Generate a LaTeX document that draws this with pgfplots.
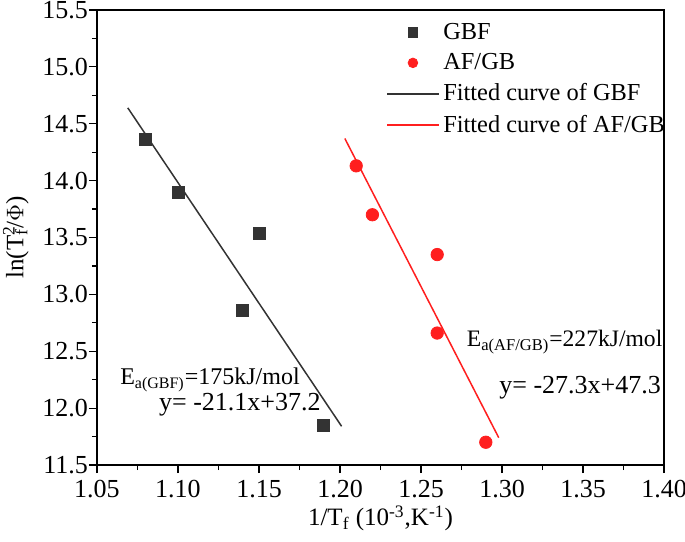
\documentclass[border=0pt]{standalone}
\usepackage{pgfplots}
\pgfplotsset{compat=1.18}
\usepackage{fontspec}
\setmainfont{Liberation Serif}
\definecolor{gbf}{HTML}{333333}
\definecolor{afgb}{HTML}{FF1F1F}
\pgfplotsset{
  legend image code/.code={%
    \draw[mark repeat=2, mark phase=2, #1, mark size=2.4pt]
      plot coordinates {(0cm,0cm) (0.45cm,0cm) (0.9cm,0cm)};},
}

\begin{document}
\begin{tikzpicture}
\begin{axis}[
  width=283.5pt, height=227.5pt,
  scale only axis,
  clip=false,
  xmin=1.05, xmax=1.40,
  ymin=11.5, ymax=15.5,
  xtick={1.05,1.10,...,1.40},
  ytick={11.5,12.0,...,15.5},
  minor x tick num=1,
  minor y tick num=1,
  tick align=outside,
  tick pos=left,
  major tick length=4pt,
  minor tick length=2.5pt,
  axis line style={line width=0.8pt},
  every tick/.style={line width=0.6pt, black},
  x tick label style={/pgf/number format/.cd, fixed, fixed zerofill, precision=2},
  y tick label style={/pgf/number format/.cd, fixed, fixed zerofill, precision=1},
  /pgf/number format/assume math mode=true,
  tick label style={font=\fontsize{13}{15}\selectfont},
  yticklabel shift=-3pt,
  xticklabel shift=0pt,
  xlabel={1/T\textsubscript{f} (10\textsuperscript{-3},K\textsuperscript{-1})},
  ylabel={ln(T\rlap{\textsuperscript{2}}\textsubscript{f}/$\Phi$)},
  label style={font=\fontsize{12.5}{14}\selectfont},
  xlabel style={yshift=3pt},
  legend style={draw=none, fill=none, at={(0.51,0.99)}, anchor=north west,
    inner xsep=0pt, font=\fontsize{12.2}{14}\selectfont, row sep=1.6pt},
  legend cell align=left,
]
\addplot[only marks, mark=square*, mark size=3pt, gbf] coordinates {
  (1.08,14.36) (1.10,13.90) (1.15,13.54) (1.14,12.86) (1.19,11.85)};
\addlegendentry{GBF}
\addplot[only marks, mark=*, mark size=3.1pt, afgb] coordinates {
  (1.21,14.13) (1.22,13.70) (1.26,13.35) (1.26,12.66) (1.29,11.70)};
\addlegendentry{AF/GB}
\addplot[gbf, line width=0.75pt, no marks] coordinates {(1.069,14.64) (1.201,11.84)};
\addlegendentry{Fitted curve of GBF}
\addplot[afgb, line width=0.75pt, no marks] coordinates {(1.203,14.37) (1.298,11.74)};
\addlegendentry{Fitted curve of AF/GB}
\node[anchor=west, font=\fontsize{12}{15}\selectfont] at (axis cs:1.060,12.25) {E\textsubscript{a(GBF)}=175kJ/mol};
\node[anchor=west, font=\fontsize{13}{15}\selectfont] at (axis cs:1.084,12.03) {y= -21.1x+37.2};
\node[anchor=west, font=\fontsize{11.8}{15}\selectfont] at (axis cs:1.274,12.58) {E\textsubscript{a(AF/GB)}=227kJ/mol};
\node[anchor=west, font=\fontsize{13}{15}\selectfont] at (axis cs:1.294,12.18) {y= -27.3x+47.3};
\end{axis}
\pgfresetboundingbox
\path ([shift={(-48.5pt,-38pt)}]current axis.south west) rectangle ([shift={(10.5pt,5pt)}]current axis.north east);
\end{tikzpicture}
\end{document}
